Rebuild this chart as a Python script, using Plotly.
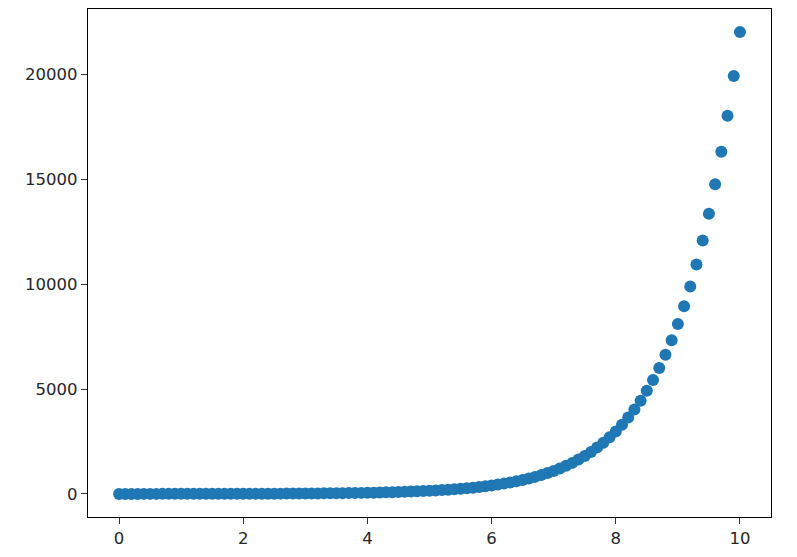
import plotly.graph_objects as go

x = [0.0, 0.1, 0.2, 0.3, 0.4, 0.5, 0.6, 0.7, 0.8, 0.9,
     1.0, 1.1, 1.2, 1.3, 1.4, 1.5, 1.6, 1.7, 1.8, 1.9,
     2.0, 2.1, 2.2, 2.3, 2.4, 2.5, 2.6, 2.7, 2.8, 2.9,
     3.0, 3.1, 3.2, 3.3, 3.4, 3.5, 3.6, 3.7, 3.8, 3.9,
     4.0, 4.1, 4.2, 4.3, 4.4, 4.5, 4.6, 4.7, 4.8, 4.9,
     5.0, 5.1, 5.2, 5.3, 5.4, 5.5, 5.6, 5.7, 5.8, 5.9,
     6.0, 6.1, 6.2, 6.3, 6.4, 6.5, 6.6, 6.7, 6.8, 6.9,
     7.0, 7.1, 7.2, 7.3, 7.4, 7.5, 7.6, 7.7, 7.8, 7.9,
     8.0, 8.1, 8.2, 8.3, 8.4, 8.5, 8.6, 8.7, 8.8, 8.9,
     9.0, 9.1, 9.2, 9.3, 9.4, 9.5, 9.6, 9.7, 9.8, 9.9,
     10.0]

y = [1.00, 1.11, 1.22, 1.35, 1.49, 1.65, 1.82, 2.01, 2.23, 2.46,
     2.72, 3.00, 3.32, 3.67, 4.06, 4.48, 4.95, 5.47, 6.05, 6.69,
     7.39, 8.17, 9.03, 9.97, 11.02, 12.18, 13.46, 14.88, 16.44, 18.17,
     20.09, 22.20, 24.53, 27.11, 29.96, 33.12, 36.60, 40.45, 44.70, 49.40,
     54.60, 60.34, 66.69, 73.70, 81.45, 90.02, 99.48, 109.95, 121.51, 134.29,
     148.41, 164.02, 181.27, 200.34, 221.41, 244.69, 270.43, 298.87, 330.30, 365.04,
     403.43, 445.86, 492.75, 544.57, 601.85, 665.14, 735.10, 812.41, 897.85, 992.27,
     1096.63, 1211.97, 1339.43, 1480.30, 1635.98, 1808.04, 1998.20, 2208.35, 2440.60, 2697.28,
     2980.96, 3294.47, 3640.95, 4023.87, 4447.07, 4914.77, 5431.66, 6002.91, 6634.24, 7331.97,
     8103.08, 8955.29, 9897.13, 10938.02, 12088.38, 13359.73, 14764.78, 16317.61, 18033.74, 19930.37,
     22026.47]

x_ticks = [0, 2, 4, 6, 8, 10]
y_ticks = [0, 5000, 10000, 15000, 20000]

fig = go.Figure()

fig.add_trace(go.Scatter(
    x=x,
    y=y,
    mode='markers',
    marker=dict(size=12, color='#1f77b4', line=dict(width=0)),
))

axis_style = dict(
    showgrid=False,
    zeroline=False,
    showline=True,
    linecolor='black',
    linewidth=1.4,
    mirror=True,
    ticks='outside',
    ticklen=6,
    tickwidth=1.4,
    tickcolor='#333333',
    tickfont=dict(family='DejaVu Sans', size=16.5, color='#262626'),
)

# page body has an 8px margin, so the figure is sized to fit inside it
fig.update_layout(
    width=781,
    height=541,
    showlegend=False,
    plot_bgcolor='white',
    paper_bgcolor='white',
    margin=dict(l=80, r=18, t=1, b=32),
    xaxis=dict(range=[-0.5, 10.5], tickvals=x_ticks, **axis_style),
    yaxis=dict(range=[-1101, 23127], tickvals=y_ticks, tickformat='d',
               **axis_style),
)

fig.write_html("out.html")
